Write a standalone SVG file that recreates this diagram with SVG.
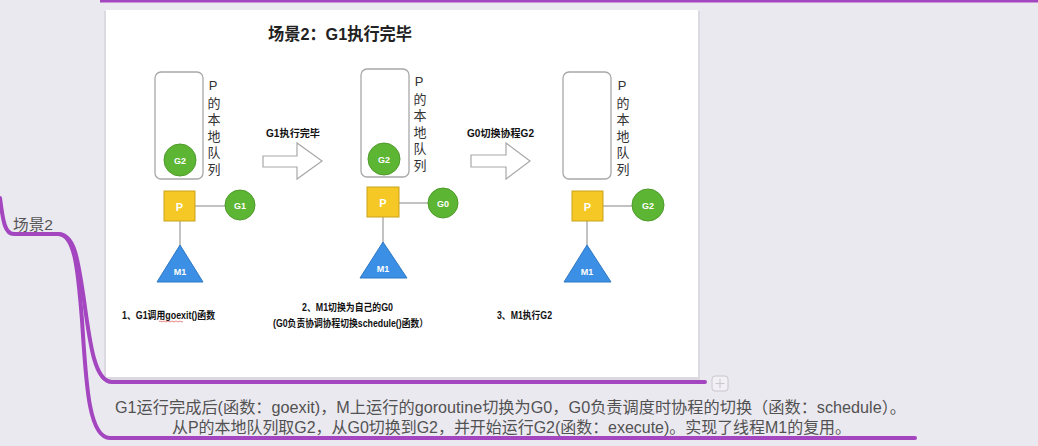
<svg xmlns="http://www.w3.org/2000/svg" width="1038" height="446" viewBox="0 0 1038 446">
<style>
.cjk{font-family:"Liberation Sans","Noto Sans CJK SC",sans-serif}
.q{fill:#fff;stroke:#a8a8a8;stroke-width:1.3}
.g{fill:#5db534;stroke:#4e9a2a;stroke-width:1}
.p{fill:#f5c825;stroke:#c9a21c;stroke-width:1}
.m{fill:#3b8fe4;stroke:#2f78c4;stroke-width:1}
.ln{stroke:#9a9a9a;stroke-width:1.2;fill:none}
.wl{fill:#fff;font-family:"Liberation Sans",sans-serif;font-weight:bold;text-anchor:middle}
.vt{font-size:13px;fill:#333;writing-mode:vertical-rl;text-orientation:upright;letter-spacing:3.5px}
.lbl{font-size:10px;font-weight:bold;fill:#111}
.arr{fill:#fff;stroke:#a8a8a8;stroke-width:1.2}
.pl{stroke:#a346bf;stroke-width:4;fill:none;stroke-linecap:round}
.note{font-size:16px;fill:#525252}
</style>
<rect width="1038" height="446" fill="#ebe9f0"/>
<line x1="100" y1="1" x2="1038" y2="1" stroke="#a346bf" stroke-width="3"/>
<rect x="104" y="11" width="596" height="369" fill="#dcdae0"/>
<rect x="106" y="10" width="592" height="367" fill="#ffffff"/>
<g id="connectors">
<path class="pl" d="M0 198 C3 222 5 234 14 234 L58 234 C75 234 78 260 84 300 C90 345 95 382 112 382 L705 382"/>
<path class="pl" d="M58 234 C75 234 78 270 82 320 C86 380 88 438 110 438 L915 438"/>
<line class="ln" x1="195" y1="206" x2="225" y2="206"/>
<line class="ln" x1="180" y1="221" x2="180" y2="246"/>
<line class="ln" x1="399" y1="203" x2="428" y2="203"/>
<line class="ln" x1="383" y1="217" x2="383" y2="243"/>
<line class="ln" x1="603" y1="206" x2="632" y2="206"/>
<line class="ln" x1="587" y1="221" x2="587" y2="246"/>
<path class="arr" d="M263 156 L297 156 L297 143 L322 161 L297 179 L297 167 L263 167 Z"/>
<path class="arr" d="M471 155 L506 155 L506 143 L530 161 L506 179 L506 167 L471 167 Z"/>
</g>
<rect x="712" y="376" width="16" height="15" rx="3" fill="#f2f0f4" stroke="#c8c6cc" stroke-width="1"/>
<path d="M720 379 V388 M715.5 383.5 H724.5" stroke="#c8c6cc" stroke-width="1"/>
<text class="cjk" x="268" y="40" font-size="17" font-weight="bold" fill="#222" textLength="144" lengthAdjust="spacingAndGlyphs">场景2：G1执行完毕</text>
<g id="col1">
<rect class="q" x="155" y="72" width="48" height="107" rx="6"/>
<circle class="g" cx="180" cy="160" r="16"/>
<text class="wl" x="180" y="163.5" font-size="9">G2</text>
<text class="cjk vt" x="213" y="78">P的本地队列</text>
<rect class="p" x="164" y="191" width="31" height="30"/>
<text class="wl" x="179.5" y="210.5" font-size="11">P</text>
<circle class="g" cx="240" cy="205" r="15"/>
<text class="wl" x="240" y="208.5" font-size="9">G1</text>
<path class="m" d="M180 245 L203 282 L157 282 Z"/>
<text class="wl" x="180" y="275" font-size="9">M1</text>
<text class="cjk lbl" x="266" y="137" textLength="54" lengthAdjust="spacingAndGlyphs">G1执行完毕</text>
</g>
<g id="col2">
<rect class="q" x="361" y="69" width="48" height="108" rx="6"/>
<circle class="g" cx="384" cy="159" r="16"/>
<text class="wl" x="384" y="162.5" font-size="9">G2</text>
<text class="cjk vt" x="419" y="74">P的本地队列</text>
<rect class="p" x="367" y="187" width="32" height="30"/>
<text class="wl" x="383" y="206.5" font-size="11">P</text>
<circle class="g" cx="443" cy="203" r="15"/>
<text class="wl" x="443" y="206.5" font-size="9">G0</text>
<path class="m" d="M383 242 L407 278 L360 278 Z"/>
<text class="wl" x="383" y="271.5" font-size="9">M1</text>
<text class="cjk lbl" x="467" y="137" textLength="67" lengthAdjust="spacingAndGlyphs">G0切换协程G2</text>
</g>
<g id="col3">
<rect class="q" x="563" y="72" width="48" height="107" rx="6"/>
<text class="cjk vt" x="622" y="78">P的本地队列</text>
<rect class="p" x="572" y="191" width="31" height="30"/>
<text class="wl" x="587.5" y="210.5" font-size="11">P</text>
<circle class="g" cx="648" cy="205" r="16"/>
<text class="wl" x="648" y="208.5" font-size="9">G2</text>
<path class="m" d="M587 245 L611 282 L564 282 Z"/>
<text class="wl" x="587" y="275" font-size="9">M1</text>
</g>
<g id="captions">
<text class="cjk lbl" x="122" y="319" textLength="93" lengthAdjust="spacingAndGlyphs">1、G1调用goexit()函数</text>
<path d="M159 321.5 q1 -1 2 0 t2 0 t2 0 t2 0 t2 0 t2 0 t2 0 t2 0 t2 0 t2 0 t2 0 t2 0" stroke="#e05050" stroke-width="0.7" fill="none"/>
<text class="cjk lbl" x="302" y="311" textLength="91" lengthAdjust="spacingAndGlyphs">2、M1切换为自己的G0</text>
<text class="cjk lbl" x="273" y="327" textLength="155" lengthAdjust="spacingAndGlyphs">(G0负责协调协程切换schedule()函数）</text>
<text class="cjk lbl" x="497" y="319" textLength="55" lengthAdjust="spacingAndGlyphs">3、M1执行G2</text>
</g>
<text class="cjk" x="13" y="229.5" font-size="15" fill="#555" textLength="40" lengthAdjust="spacingAndGlyphs">场景2</text>
<text class="cjk note" x="115" y="413" textLength="791" lengthAdjust="spacingAndGlyphs">G1运行完成后(函数：goexit)，M上运行的goroutine切换为G0，G0负责调度时协程的切换（函数：schedule）。</text>
<text class="cjk note" x="172" y="433" textLength="679" lengthAdjust="spacingAndGlyphs">从P的本地队列取G2，从G0切换到G2，并开始运行G2(函数：execute)。实现了线程M1的复用。</text>
</svg>
